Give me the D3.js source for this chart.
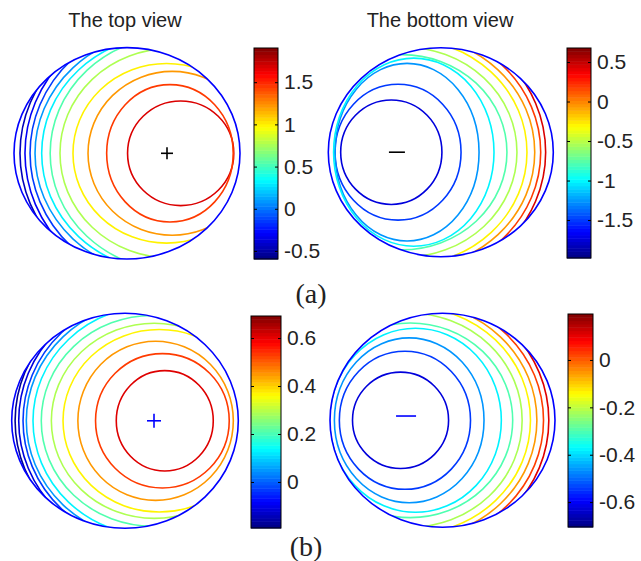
<!DOCTYPE html>
<html>
<head>
<meta charset="utf-8">
<script src="https://cdn.jsdelivr.net/npm/d3@7"></script>
<style>
body { margin: 0; background: #fff; }
svg { display: block; }
.title { font-family: "Liberation Sans", Arial, sans-serif; font-size: 20px; fill: #222; }
.tag { font-family: "Liberation Serif", "Times New Roman", serif; font-size: 28px; fill: #222; }
</style>
</head>
<body>
<svg id="canvas" width="641" height="561"></svg>
<script>
// contour levels, centre (along the horizontal axis) and half widths of each level curve,
// in disk units (disk spans -1..1 both ways)

// (a) top view
const levelsTopA = [1.68, 1.45, 1.22, 1.0, 0.77, 0.54, 0.31, 0.09, -0.14, -0.3, -0.45];
const centerTopA = [0.475, 0.38, 0.40, 0.35, 0.38, 0.43, 0.36, 0.33, 0.39, 0.41, 0.36];
const widthTopA  = [0.47, 0.56, 0.745, 0.828, 0.973, 1.11, 1.115, 1.144, 1.248, 1.313, 1.307];
const heightTopA = [0.495, 0.65, 0.775, 0.85, 0.99, 1.11, 1.115, 1.144, 1.248, 1.313, 1.307];
const rangeTopA = [-0.595, 1.905];
const ticksTopA = [-0.5, 0, 0.5, 1, 1.5];

// (a) bottom view
const levelsBotA = [-1.74, -1.50, -1.26, -1.01, -0.77, -0.53, -0.29, -0.05, 0.19, 0.44];
const centerBotA = [-0.44, -0.38, -0.30, -0.24, -0.346, -0.328, -0.318, -0.28, -0.297, -0.342];
const widthBotA  = [0.45, 0.56, 0.64, 0.713, 0.934, 1.005, 1.084, 1.115, 1.185, 1.274];
const heightBotA = [0.50, 0.65, 0.85, 0.90, 0.934, 1.005, 1.084, 1.115, 1.185, 1.274];
const rangeBotA = [-1.98, 0.677];
const ticksBotA = [-1.5, -1, -0.5, 0, 0.5];

// (b) top view
const levelsTopB = [0.61, 0.53, 0.45, 0.37, 0.29, 0.21, 0.13, 0.05, -0.03, -0.11, -0.17];
const centerTopB = [0.351, 0.33, 0.27, 0.302, 0.258, 0.241, 0.258, 0.234, 0.258, 0.262, 0.25];
const widthTopB  = [0.428, 0.59, 0.686, 0.849, 0.908, 0.98, 1.07, 1.105, 1.158, 1.2, 1.22];
const heightTopB = [0.467, 0.625, 0.74, 0.849, 0.908, 0.98, 1.07, 1.105, 1.158, 1.2, 1.22];
const rangeTopB = [-0.192, 0.692];
const ticksTopB = [0, 0.2, 0.4, 0.6];

// (b) bottom view
const levelsBotB = [-0.624, -0.542, -0.461, -0.379, -0.298, -0.217, -0.135, -0.054, 0.027, 0.109];
const centerBotB = [-0.373, -0.334, -0.296, -0.24, -0.286, -0.292, -0.28, -0.261, -0.247, -0.264];
const widthBotB  = [0.427, 0.583, 0.665, 0.763, 0.91, 1.0, 1.062, 1.1, 1.145, 1.209];
const heightBotB = [0.45, 0.645, 0.77, 0.86, 0.91, 1.0, 1.062, 1.1, 1.145, 1.209];
const rangeBotB = [-0.705, 0.194];
const ticksBotB = [-0.6, -0.4, -0.2, 0];

// source marks (+ / -), disk units
const markSign = ["+", "-", "+", "-"];
const markU = [0.354, -0.39, 0.256, -0.324];
const markV = [0, 0, 0, -0.04];

const titles = ["The top view", "The bottom view"];
const tags = ["(a)", "(b)"];

// layout of the four panels (pixels)
var panels = [
    {levels: levelsTopA, center: centerTopA, w: widthTopA, h: heightTopA, range: rangeTopA, ticks: ticksTopA,
     disk: {cx: 127, cy: 153.3, rx: 113, ry: 105.7}, bar: {x: 254, y: 48, w: 24, h: 211}, markColor: "#000", markSize: 6},
    {levels: levelsBotA, center: centerBotA, w: widthBotA, h: heightBotA, range: rangeBotA, ticks: ticksBotA,
     disk: {cx: 440.8, cy: 152.2, rx: 112.5, ry: 104.5}, bar: {x: 567, y: 48, w: 24, h: 210}, markColor: "#000", markSize: 8},
    {levels: levelsTopB, center: centerTopB, w: widthTopB, h: heightTopB, range: rangeTopB, ticks: ticksTopB,
     disk: {cx: 125, cy: 420.8, rx: 113.3, ry: 107.5}, bar: {x: 251, y: 316, w: 30, h: 212}, markColor: "#0000ff", markSize: 7},
    {levels: levelsBotB, center: centerBotB, w: widthBotB, h: heightBotB, range: rangeBotB, ticks: ticksBotB,
     disk: {cx: 442.5, cy: 420.3, rx: 112.5, ry: 107}, bar: {x: 568, y: 314, w: 25, h: 213}, markColor: "#0000ff", markSize: 10}
];

var svg = d3.select("#canvas");

// matlab jet colormap
function jet(t){
    var c = function(v){ return Math.max(0, Math.min(1, v)); };
    var r = c(1.5 - Math.abs(4*t - 3));
    var g = c(1.5 - Math.abs(4*t - 2));
    var b = c(1.5 - Math.abs(4*t - 1));
    return d3.rgb(r*255, g*255, b*255).toString();
}

function drawPanel(p, k){
    var x = d3.scaleLinear().domain([-1, 1]).range([p.disk.cx - p.disk.rx, p.disk.cx + p.disk.rx]);
    var y = d3.scaleLinear().domain([-1, 1]).range([p.disk.cy - p.disk.ry, p.disk.cy + p.disk.ry]);
    var t = d3.scaleLinear().domain(p.range).range([0, 1]).clamp(true);

    svg.append("clipPath").attr("id", "disk" + k)
        .append("ellipse")
        .attr("cx", x(0)).attr("cy", y(0))
        .attr("rx", x(1) - x(0)).attr("ry", y(1) - y(0));

    // level curves
    svg.append("g").attr("clip-path", "url(#disk" + k + ")")
        .selectAll("ellipse")
        .data(d3.range(p.levels.length))
        .join("ellipse")
        .attr("cx", function(i){ return x(p.center[i]); })
        .attr("cy", y(0))
        .attr("rx", function(i){ return x(p.center[i] + p.w[i]) - x(p.center[i]); })
        .attr("ry", function(i){ return y(p.h[i]) - y(0); })
        .attr("fill", "none")
        .attr("stroke", function(i){ return jet(t(p.levels[i])); })
        .attr("stroke-width", 1.6);

    // disk outline
    svg.append("ellipse")
        .attr("cx", x(0)).attr("cy", y(0))
        .attr("rx", x(1) - x(0)).attr("ry", y(1) - y(0))
        .attr("fill", "none")
        .attr("stroke", "#0000ff")
        .attr("stroke-width", 1.6);

    // + or - mark
    var mx = x(markU[k]), my = y(markV[k]), s = p.markSize;
    var mark = svg.append("g").attr("stroke", p.markColor).attr("stroke-width", 1.6);
    mark.append("line").attr("x1", mx - s).attr("x2", mx + s).attr("y1", my).attr("y2", my);
    if (markSign[k] == "+") {
        mark.append("line").attr("x1", mx).attr("x2", mx).attr("y1", my - s).attr("y2", my + s);
    }

    // colorbar
    var b = p.bar;
    var cy = d3.scaleLinear().domain(p.range).range([b.y + b.h, b.y]);
    var span = p.range[1] - p.range[0];
    var n = 64;
    svg.append("g").selectAll("rect")
        .data(d3.range(n))
        .join("rect")
        .attr("x", b.x)
        .attr("width", b.w)
        .attr("y", function(i){ return cy(p.range[0] + (i + 1)*span/n); })
        .attr("height", function(i){ return cy(p.range[0] + i*span/n) - cy(p.range[0] + (i + 1)*span/n) + 0.5; })
        .attr("fill", function(i){ return jet((i + 0.5)/n); });

    var right = svg.append("g").attr("transform", "translate(" + (b.x + b.w) + ",0)")
        .call(d3.axisRight(cy).tickValues(p.ticks).tickSizeInner(-3).tickSizeOuter(0).tickPadding(6)
            .tickFormat(function(d){ return String(d); }));
    right.select(".domain").remove();
    right.selectAll("text")
        .attr("font-family", "'Liberation Sans', Arial, sans-serif")
        .attr("font-size", 21)
        .attr("fill", "#222");
    right.selectAll("line").attr("stroke", "#000");

    var left = svg.append("g").attr("transform", "translate(" + b.x + ",0)")
        .call(d3.axisLeft(cy).tickValues(p.ticks).tickSizeInner(-3).tickSizeOuter(0).tickFormat(""));
    left.select(".domain").remove();
    left.selectAll("line").attr("stroke", "#000");

    svg.append("rect")
        .attr("x", b.x).attr("y", b.y).attr("width", b.w).attr("height", b.h)
        .attr("fill", "none").attr("stroke", "#000").attr("stroke-width", 1);
}

panels.forEach(drawPanel);

svg.append("text").attr("class", "title").attr("x", 125).attr("y", 27)
    .attr("text-anchor", "middle").text(titles[0]);
svg.append("text").attr("class", "title").attr("x", 440).attr("y", 27)
    .attr("text-anchor", "middle").text(titles[1]);
svg.append("text").attr("class", "tag").attr("x", 311).attr("y", 303)
    .attr("text-anchor", "middle").text(tags[0]);
svg.append("text").attr("class", "tag").attr("x", 306).attr("y", 556)
    .attr("text-anchor", "middle").text(tags[1]);
</script>
</body>
</html>
